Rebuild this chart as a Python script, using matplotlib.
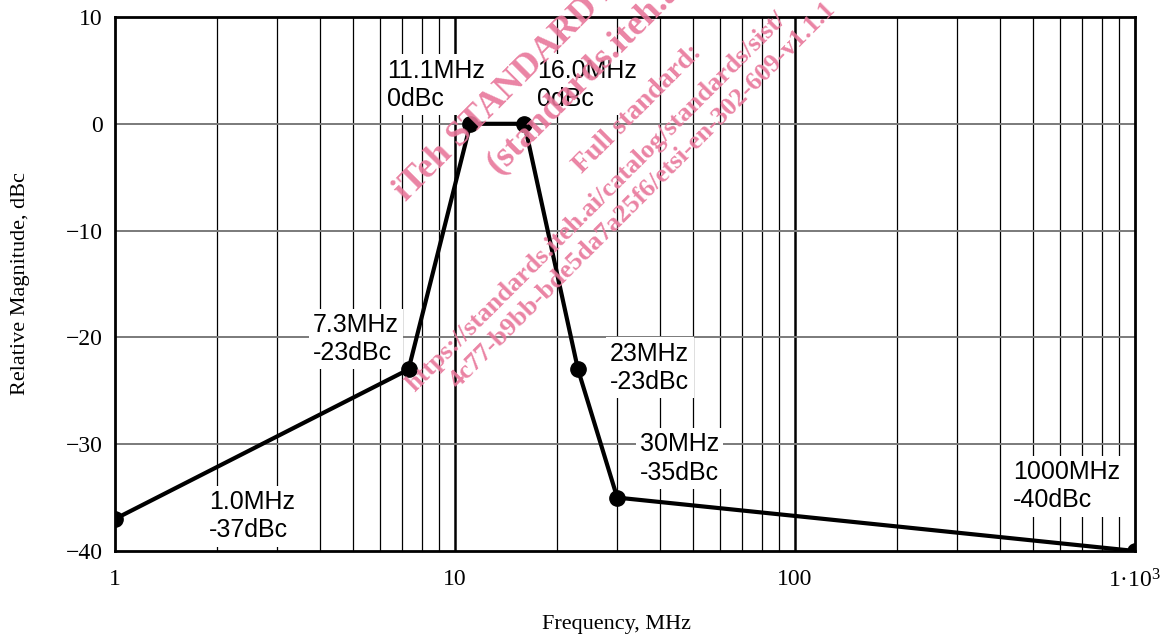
import matplotlib
matplotlib.use('Agg')
import matplotlib.pyplot as plt
from matplotlib.ticker import FixedLocator, NullLocator

# ---- data ----
freq = [1.0, 7.3, 11.1, 16.0, 23.0, 30.0, 1000.0]
mag = [-37, -23, 0, 0, -23, -35, -40]
point_labels = ["1.0MHz\n-37dBc", "7.3MHz\n-23dBc", "11.1MHz\n0dBc", "16.0MHz\n0dBc",
                "23MHz\n-23dBc", "30MHz\n-35dBc", "1000MHz\n-40dBc"]
label_x = [1.89, 3.82, 6.31, 17.4, 28.6, 35.0, 437.0]
label_y = [-34.3, -17.7, 6.1, 6.1, -20.4, -28.9, -31.5]
xticks = [1, 10, 100, 1000]
xticklabels = ["1", "10", "100", "1·10$^{3}$"]
yticks = [-40, -30, -20, -10, 0, 10]
yticklabels = ["−40", "−30", "−20", "−10", "0", "10"]
major_x = [10, 100]
minor_x = [m * d for d in (1, 10, 100) for m in range(2, 10)]

watermark = [
    ("iTeh STANDARD PREVIEW", 406, 202, 26),
    ("(standards.iteh.ai)", 498, 175, 26),
    ("Full standard:", 582, 174, 20),
    ("https://standards.iteh.ai/catalog/standards/sist/", 415, 392, 19),
    ("4c77-b9bb-bde5da7a25f6/etsi-en-302-609-v1.1.1", 458, 389, 19),
]

plt.rcParams['mathtext.fontset'] = 'custom'
plt.rcParams['mathtext.rm'] = 'Liberation Serif'
plt.rcParams['mathtext.it'] = 'Liberation Serif:italic'
plt.rcParams['mathtext.bf'] = 'Liberation Serif:bold'
plt.rcParams['mathtext.default'] = 'regular'

W, H = 1161, 636
fig = plt.figure(figsize=(W / 100, H / 100), dpi=100)
ax = fig.add_axes([115 / W, 1 - 551 / H, 1020 / W, 534 / H])

ax.set_xscale('log')
ax.set_xlim(1, 1000)
ax.set_ylim(-40, 10)

# grid
for xv in minor_x:
    ax.axvline(xv, color='black', lw=0.9, zorder=1)
for xv in major_x:
    ax.axvline(xv, color='black', lw=1.8, zorder=1)
for yv in yticks[1:-1]:
    ax.axhline(yv, color='#7a7a7a', lw=1.4, zorder=1)

# line
ax.plot(freq, mag, color='black', lw=3, marker='o', markersize=11, zorder=4)

# labels
for t, lx, ly in zip(point_labels, label_x, label_y):
    ax.text(lx, ly, t, ha='left', va='top', fontsize=18, family='Liberation Sans',
            linespacing=1.22, zorder=3,
            bbox=dict(facecolor='white', edgecolor='none', pad=3))

# ticks
ax.xaxis.set_major_locator(FixedLocator(xticks))
ax.xaxis.set_minor_locator(NullLocator())
ax.set_xticklabels(xticklabels, family='Liberation Serif', fontsize=17)
ax.set_yticks(yticks)
ax.set_yticklabels(yticklabels, family='Liberation Serif', fontsize=17)
ax.tick_params(axis='both', length=0)
ax.tick_params(axis='x', pad=13)
ax.tick_params(axis='y', pad=9)

for s in ax.spines.values():
    s.set_linewidth(2)
    s.set_color('black')
    s.set_zorder(5)

ax.set_xlabel("Frequency, MHz", family='Liberation Serif', fontsize=16)
ax.set_ylabel("Relative Magnitude, dBc", family='Liberation Serif', fontsize=16)
ax.xaxis.set_label_coords(0.492, -0.12)
ax.yaxis.set_label_coords(-0.083, 0.5)

# watermark
for t, px, py, fs in watermark:
    fig.text(px / W, 1 - py / H, t, rotation=45, rotation_mode='anchor',
             ha='left', va='baseline', fontsize=fs, family='Liberation Serif',
             fontweight='bold', color='#e8769a', alpha=0.9, zorder=10)

fig.savefig('out.png', dpi=100)
